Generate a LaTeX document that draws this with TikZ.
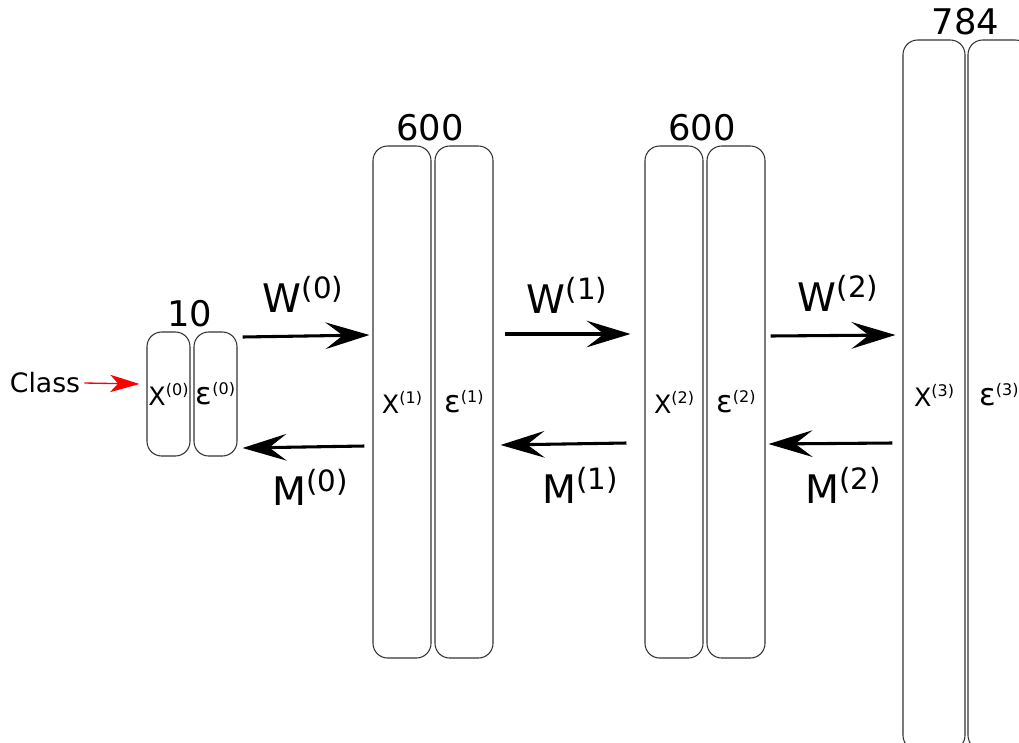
\documentclass[tikz,border=0pt]{standalone}
\usepackage{fontspec}
\setmainfont{DejaVu Sans}
\usetikzlibrary{arrows.meta,calc}
\newcommand{\wlbl}[2]{{\fontsize{29.5}{29.5}\selectfont #1\raisebox{10.5pt}{\fontsize{22}{22}\selectfont(#2)}}}
\newcommand{\xlbl}[1]{{\fontsize{19}{19}\selectfont X\raisebox{7.5pt}{\fontsize{12}{12}\selectfont(#1)}}}
\newcommand{\elbl}[1]{{\fontsize{23}{23}\selectfont ε\raisebox{7.5pt}{\fontsize{12}{12}\selectfont(#1)}}}
\tikzset{
  layerbox/.style={draw=black!80, line width=0.8pt, rounded corners=11pt, inner sep=0pt},
  bigarrow/.style={line width=2.3pt, -{Stealth[length=33pt, width=20pt, inset=13pt]}},
  classarrow/.style={red, line width=1pt, -{Stealth[length=22pt, width=13pt, inset=6pt]}},
  sizelbl/.style={font=\fontsize{26.5}{26.5}\selectfont, anchor=south, inner sep=3pt},
  wlabel/.style={anchor=base, inner sep=0pt},
}
\begin{document}
\begin{tikzpicture}[x=0.75pt, y=-0.75pt]
\useasboundingbox (0,0) rectangle (1019,742);
\clip (0,0) rectangle (1019,742);
% layer 0
\node[layerbox, minimum width=43*0.75pt, minimum height=124*0.75pt] (X0) at (168.5,394) {\xlbl{0}};
\node[layerbox, minimum width=43*0.75pt, minimum height=124*0.75pt] (E0) at (215.5,394) {\elbl{0}};
% layer 1
\node[layerbox, minimum width=58*0.75pt, minimum height=512*0.75pt] (X1) at (402,402) {\xlbl{1}};
\node[layerbox, minimum width=58*0.75pt, minimum height=512*0.75pt] (E1) at (464,402) {\elbl{1}};
% layer 2
\node[layerbox, minimum width=58*0.75pt, minimum height=512*0.75pt] (X2) at (674,402) {\xlbl{2}};
\node[layerbox, minimum width=58*0.75pt, minimum height=512*0.75pt] (E2) at (736,402) {\elbl{2}};
% layer 3
\node[layerbox, minimum width=62*0.75pt, minimum height=710*0.75pt] (X3) at (934,395) {\xlbl{3}};
\node[layerbox, minimum width=62*0.75pt, minimum height=710*0.75pt] (E3) at (999,395) {\elbl{3}};
% sizes
\node[sizelbl] (n0) at ($(X0.north)!0.5!(E0.north)+(-2,0)$) {10};
\node[sizelbl] (n1) at ($(X1.north)!0.5!(E1.north)+(-3,0)$) {600};
\node[sizelbl] (n2) at ($(X2.north)!0.5!(E2.north)+(-3,0)$) {600};
\node[sizelbl] (n3) at ($(X3.north)!0.5!(E3.north)+(-1,0)$) {784};
% class input
\node[font=\fontsize{20}{20}\selectfont, inner sep=1pt] (cls) at (45,383) {Class};
\draw[classarrow] ([xshift=2]cls.east) -- ([shift={(-7,-10)}]X0.west);
% forward arrows
\draw[bigarrow] ([shift={(5,-57)}]E0.east) -- ([shift={(-3,-67)}]X1.west);
\draw[bigarrow] ([shift={(11,-68)}]E1.east) -- ([shift={(-14,-68)}]X2.west);
\draw[bigarrow] ([shift={(5,-66)}]E2.east) -- ([shift={(-7,-60)}]X3.west);
% backward arrows
\draw[bigarrow] ([shift={(-8,44)}]X1.west) -- ([shift={(5,54)}]E0.east);
\draw[bigarrow] ([shift={(-18,41)}]X2.west) -- ([shift={(7,43)}]E1.east);
\draw[bigarrow] ([shift={(-10,48)}]X3.west) -- ([shift={(3,42)}]E2.east);
% labels
\node[wlabel] (w0) at (303,312) {\wlbl{W}{0}};
\node[wlabel] (w1) at (567,313) {\wlbl{W}{1}};
\node[wlabel] (w2) at (838,311) {\wlbl{W}{2}};
\node[wlabel] (m0) at (310,505) {\wlbl{M}{0}};
\node[wlabel] (m1) at (580,503) {\wlbl{M}{1}};
\node[wlabel] (m2) at (843,503) {\wlbl{M}{2}};
\end{tikzpicture}
\end{document}
